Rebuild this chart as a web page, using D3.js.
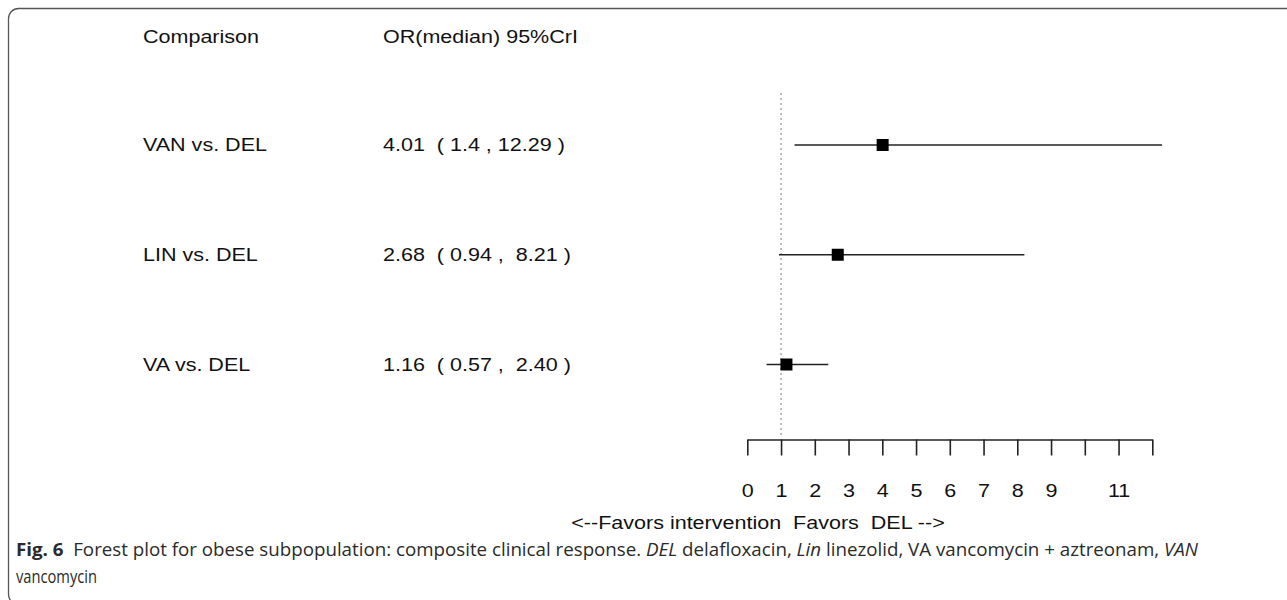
<!DOCTYPE html>
<html>
<head>
<meta charset="utf-8">
<script src="https://cdn.jsdelivr.net/npm/d3@7"></script>
<style>
  body { margin: 0; background: #fff; }
  svg { display: block; }
  text { white-space: pre; }
</style>
</head>
<body>
<svg id="chart" width="1287" height="600"></svg>
<script>
// Dữ liệu
const comparisons = ["VAN vs. DEL", "LIN vs. DEL", "VA vs. DEL"];
const orMedian = [4.01, 2.68, 1.16];
const orLower = [1.4, 0.94, 0.57];
const orUpper = [12.29, 8.21, 2.40];
const ciLabels = ["4.01  ( 1.4 , 12.29 )", "2.68  ( 0.94 ,  8.21 )", "1.16  ( 0.57 ,  2.40 )"];
const tickValues = [0, 1, 2, 3, 4, 5, 6, 7, 8, 9, 10, 11, 12];
const tickLabels = ["0", "1", "2", "3", "4", "5", "6", "7", "8", "9", "", "11", ""];
const refValue = 1;

const svg = d3.select("#chart");
const ink = "#111";
const stretch = "scale(1.23,1)";

// Khung viền
svg.append("rect")
  .attr("x", 8.5).attr("y", 8.5)
  .attr("width", 1400).attr("height", 596)
  .attr("rx", 10)
  .attr("fill", "none")
  .attr("stroke", "#555")
  .attr("stroke-width", 1.3);

// Thang đo
const x = d3.scaleLinear().domain([0, 12]).range([747.3, 1152.3]);
const y = d3.scalePoint().domain(comparisons).range([145, 364.5]);

const text = (sx, sy, s, anchor) => svg.append("text")
  .attr("transform", `translate(${sx},${sy}) ${stretch}`)
  .attr("dy", "0.35em")
  .attr("text-anchor", anchor || "start")
  .style("font-family", "'Liberation Sans', Arial, sans-serif")
  .style("font-size", "17.5px")
  .style("fill", ink)
  .text(s);

// Tiêu đề cột
text(143, 37, "Comparison");
text(383, 37, "OR(median) 95%CrI");

// Nhãn hàng
comparisons.forEach((c, i) => {
  text(143, y(c), c);
  text(383, y(c), ciLabels[i]);
});

// Đường tham chiếu
svg.append("line")
  .attr("x1", x(refValue)).attr("x2", x(refValue))
  .attr("y1", 93).attr("y2", 437)
  .attr("stroke", "#999")
  .attr("stroke-width", 1.3)
  .attr("stroke-dasharray", "2,3");

// Khoảng tin cậy
svg.selectAll("line.ci")
  .data(comparisons)
  .enter().append("line")
    .attr("class", "ci")
    .attr("x1", (d, i) => x(orLower[i]))
    .attr("x2", (d, i) => x(orUpper[i]))
    .attr("y1", d => y(d)).attr("y2", d => y(d))
    .attr("stroke", "#222")
    .attr("stroke-width", 1.6);

// Ô vuông trung vị
const sq = 12;
svg.selectAll("rect.pt")
  .data(comparisons)
  .enter().append("rect")
    .attr("class", "pt")
    .attr("x", (d, i) => x(orMedian[i]) - sq / 2)
    .attr("y", d => y(d) - sq / 2)
    .attr("width", sq).attr("height", sq)
    .attr("fill", "#000");

// Trục X
const axis = svg.append("g")
  .attr("transform", "translate(0,439.5)")
  .call(d3.axisBottom(x)
    .tickValues(tickValues)
    .tickFormat((d, i) => tickLabels[i])
    .tickSize(16)
    .tickSizeOuter(0)
    .tickPadding(29));
axis.select(".domain").attr("stroke", "#222").attr("stroke-width", 1.6);
axis.selectAll(".tick line").attr("stroke", "#222").attr("stroke-width", 1.6);
axis.selectAll(".tick text")
  .attr("transform", stretch)
  .style("font-family", "'Liberation Sans', Arial, sans-serif")
  .style("font-size", "17.5px")
  .style("fill", ink);

text(758, 523, "<--Favors intervention  Favors  DEL -->", "middle");

// Chú thích hình
const cap = svg.append("text")
  .attr("x", 16).attr("y", 556)
  .attr("textLength", 1182)
  .attr("lengthAdjust", "spacingAndGlyphs")
  .style("font-family", "'Open Sans', 'Noto Sans', sans-serif")
  .style("font-size", "17.5px")
  .style("fill", "#2a2a2a");
cap.append("tspan").style("font-weight", "bold").text("Fig. 6");
cap.append("tspan").text("  Forest plot for obese subpopulation: composite clinical response. ");
cap.append("tspan").style("font-style", "italic").text("DEL");
cap.append("tspan").text(" delafloxacin, ");
cap.append("tspan").style("font-style", "italic").text("Lin");
cap.append("tspan").text(" linezolid, VA vancomycin + aztreonam, ");
cap.append("tspan").style("font-style", "italic").text("VAN");

svg.append("text")
  .attr("x", 16).attr("y", 583)
  .attr("textLength", 81)
  .attr("lengthAdjust", "spacingAndGlyphs")
  .style("font-family", "'Open Sans', 'Noto Sans', sans-serif")
  .style("font-size", "17.5px")
  .style("fill", "#2a2a2a")
  .text("vancomycin");
</script>
</body>
</html>
